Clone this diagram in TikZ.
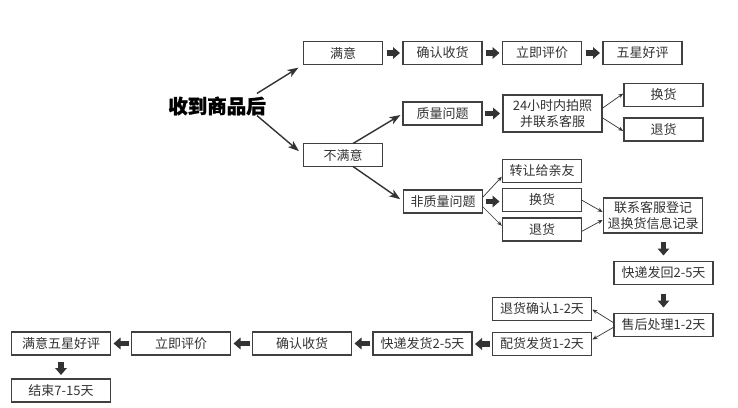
\documentclass[tikz,border=0pt]{standalone}
\usepackage{fontspec}
\setmainfont{Noto Sans CJK SC}
\newfontfamily\titlefont[BoldFeatures={FakeBold=1.2}]{Noto Sans CJK SC}
\usetikzlibrary{arrows.meta,calc}
\definecolor{boxc}{HTML}{404040}
\definecolor{arrc}{HTML}{333333}
\definecolor{txtc}{HTML}{333333}
\begin{document}
\begin{tikzpicture}[x=1pt,y=-1pt,
  box/.style={draw=boxc, line width=1.5pt, fill=white, minimum width=79pt, minimum height=23pt,
    inner sep=0pt, outer sep=0pt, font=\fontsize{13}{16}\selectfont, text=txtc, align=center},
  wbox/.style={box, minimum width=99pt},
  fat/.style={draw=arrc, line width=5.5pt, -{Triangle[length=7pt,width=11.5pt]}, shorten <=3pt, shorten >=3pt},
  thinarr/.style={draw=arrc, line width=0.7pt, -{Stealth[length=5pt,width=4pt]}},
  bigarr/.style={draw=arrc, line width=1.4pt, -{Stealth[length=11pt,width=8pt,inset=3pt]}}
]
\useasboundingbox (0,0) rectangle (738,407);
% nodes
\node[font=\fontsize{19.5}{20}\selectfont\titlefont\bfseries, text=black, inner sep=0pt] (title) at (217,106) {收到商品后};
\node[box] (manyi) at (343,53) {满意};
\node[box] (qr1) at (442.5,53) {确认收货};
\node[box] (pj1) at (542,53) {立即评价};
\node[box] (wx) at (642.5,53) {五星好评};
\node[box] (bumanyi) at (343,155) {不满意};
\node[box] (zl) at (442.5,113.5) {质量问题};
\node[wbox, minimum height=37pt] (photo) at (552.5,113.5) {24小时内拍照\\并联系客服};
\node[box] (hh1) at (663.5,95) {换货};
\node[box] (th1) at (663.5,129.5) {退货};
\node[box] (fzl) at (443,201.5) {非质量问题};
\node[box] (zr) at (542,171) {转让给亲友};
\node[box] (hh2) at (542,200) {换货};
\node[box] (th2) at (542,229.5) {退货};
\node[wbox, minimum height=35pt] (kf) at (653,215.5) {联系客服登记\\退换货信息记录};
\node[wbox] (fh) at (663.5,273) {快递发回2-5天};
\node[wbox] (sh) at (663.5,325) {售后处理1-2天};
\node[wbox] (thqr) at (542,309) {退货确认1-2天};
\node[wbox] (ph) at (542,344) {配货发货1-2天};
\node[wbox] (kdfh) at (422.5,343.5) {快递发货2-5天};
\node[wbox] (qr2) at (302,343.5) {确认收货};
\node[wbox] (pj2) at (181,343.5) {立即评价};
\node[wbox] (myw) at (61,343.5) {满意五星好评};
\node[wbox] (js) at (61,390.5) {结束7-15天};
% big arrows
\draw[bigarr, shorten >=6pt] ($(title.north east)+(-9,-3)$) -- (manyi.south west);
\draw[bigarr, shorten >=6pt] ($(title.south east)+(-9,0)$) -- (bumanyi.west);
\draw[bigarr, shorten >=3pt] ($(bumanyi.north)+(10,0)$) -- (zl.west);
\draw[bigarr, shorten >=4pt] ($(bumanyi.south)+(10,0)$) -- (fzl.west);
% fat arrows
\draw[fat, shorten <=4pt] (manyi) -- (qr1);
\draw[fat, shorten <=4pt] (qr1) -- (pj1);
\draw[fat, shorten <=4pt] (pj1) -- (wx);
\draw[fat] (zl) -- (zl -| photo.west);
\draw[fat] (fzl) -- (fzl -| hh2.west);
\draw[fat, shorten <=9pt, shorten >=6pt] (kf.south -| fh.north) -- (fh.north);
\draw[fat, shorten <=9pt, shorten >=6pt] (fh) -- (sh);
\draw[fat] (ph) -- (ph -| kdfh.east);
\draw[fat] (kdfh) -- (qr2);
\draw[fat] (qr2) -- (pj2);
\draw[fat] (pj2) -- (myw);
\draw[fat, shorten <=7pt, shorten >=4pt] (myw) -- (js);
% thin arrows
\draw[thinarr, shorten >=1pt] ($(photo.east)+(0,-5)$) -- ($(hh1.west)+(0,-2)$);
\draw[thinarr, shorten >=1pt] ($(photo.east)+(0,4)$) -- ($(th1.west)+(0,2)$);
\draw[thinarr, shorten >=1pt] ($(fzl.east)+(0,-4)$) -- ($(zr.west)+(0,5)$);
\draw[thinarr, shorten >=1pt] ($(fzl.east)+(0,5)$) -- ($(th2.west)+(0,-3)$);
\draw[thinarr, shorten >=1pt] (hh2.east) -- ($(kf.west)+(0,-3)$);
\draw[thinarr, shorten >=1pt] ($(th2.east)+(0,2)$) -- ($(kf.west)+(0,4)$);
\draw[thinarr, shorten >=1pt] ($(sh.west)+(0,-2)$) -- (thqr.east);
\draw[thinarr, shorten >=1pt] ($(sh.west)+(0,2)$) -- ($(ph.east)+(0,-4)$);
\end{tikzpicture}
\end{document}
